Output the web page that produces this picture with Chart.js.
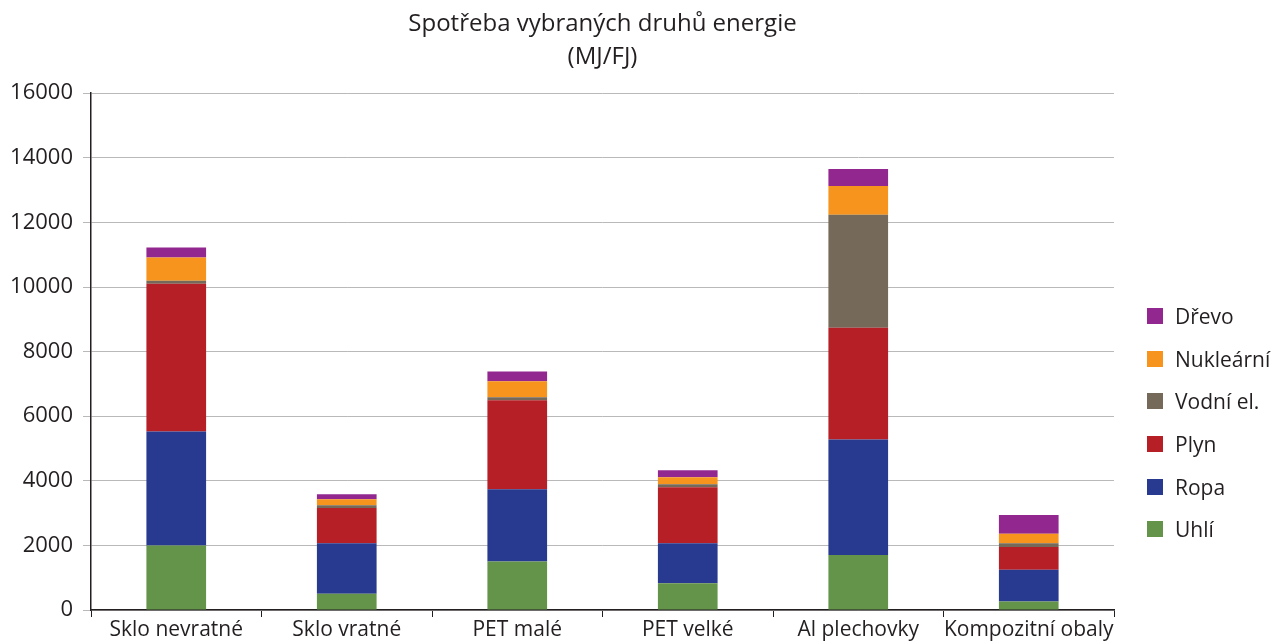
<!DOCTYPE html>
<html>
<head>
<meta charset="utf-8">
<script src="https://cdn.jsdelivr.net/npm/chart.js@4/dist/chart.umd.min.js"></script>
<style>
  html,body{margin:0;padding:0;background:#fff}
  #wrap{position:relative;width:1274px;height:644px}
  #legend{position:absolute;left:1147px;top:295px;margin:0;padding:0;list-style:none;
    font-family:"Open Sans","Noto Sans",sans-serif;font-size:21px;color:#231f20}
  #legend li{display:flex;align-items:center;height:42.6px;white-space:nowrap}
  #legend span{display:inline-block;width:16px;height:16px;margin-right:12px}
</style>
</head>
<body>
<div id="wrap"><canvas id="energyChart"></canvas><ul id="legend"></ul></div>
<script>
// packaging types and energy consumption per type (MJ/FJ)
const categories = ['Sklo nevratné','Sklo vratné','PET malé','PET velké','Al plechovky','Kompozitní obaly'];
const uhli      = [2000, 500, 1500, 830, 1700, 260];
const ropa      = [3530, 1570, 2240, 1240, 3580, 990];
const plyn      = [4570, 1090, 2750, 1730, 3460, 700];
const vodni     = [95, 85, 95, 90, 3500, 120];
const nuklearni = [720, 185, 500, 220, 890, 290];
const drevo     = [310, 155, 300, 215, 525, 580];
const yTicks = [0,2000,4000,6000,8000,10000,12000,14000,16000];

const FONT = '"Open Sans", "Noto Sans", sans-serif';
const TXT = '#231f20';

function ds(label, data, color){
  return {label, data, backgroundColor:color, borderWidth:0, barPercentage:0.35, categoryPercentage:1};
}

const ctx = document.getElementById('energyChart').getContext('2d');
const chart = new Chart(ctx,{
  type:'bar',
  data:{
    labels:categories,
    datasets:[
      ds('Uhlí', uhli, '#64944a'),
      ds('Ropa', ropa, '#283a8f'),
      ds('Plyn', plyn, '#b71f27'),
      ds('Vodní el.', vodni, '#75695a'),
      ds('Nukleární', nuklearni, '#f7941d'),
      ds('Dřevo', drevo, '#92278f')
    ]
  },
  options:{
    responsive:true,
    maintainAspectRatio:false,
    animation:false,
    layout:{padding:{left:0,right:160,top:0,bottom:0}},
    plugins:{
      title:{
        display:true,
        fullSize:false,
        text:['Spotřeba vybraných druhů energie','(MJ/FJ)'],
        color:TXT,
        font:{family:FONT,size:24,weight:'normal',lineHeight:1.4},
        padding:{top:7,bottom:19}
      },
      legend:{display:false},
      tooltip:{enabled:false}
    },
    scales:{
      x:{
        stacked:true,
        border:{color:'#231f20',width:1.5},
        grid:{drawOnChartArea:false,offset:true,tickLength:7,color:'#231f20'},
        ticks:{color:TXT,font:{family:FONT,size:21},padding:0,maxRotation:0,autoSkip:false},
        afterFit(s){ s.height = 34; }
      },
      y:{
        stacked:true,
        min:0,max:16000,
        border:{color:'#231f20',width:1.5},
        grid:{color:'#b9b9b9',lineWidth:1,tickLength:8},
        afterBuildTicks(s){ s.ticks = yTicks.map(v=>({value:v})); },
        ticks:{color:TXT,font:{family:FONT,size:22},padding:10,callback:v=>String(v)},
        afterFit(s){ s.width = 91; }
      }
    }
  }
});

// legend list, top entry is the last dataset
const legendEl = document.getElementById('legend');
chart.data.datasets.slice().reverse().forEach(d=>{
  const li = document.createElement('li');
  const sw = document.createElement('span');
  sw.style.background = d.backgroundColor;
  li.appendChild(sw);
  li.appendChild(document.createTextNode(d.label));
  legendEl.appendChild(li);
});
</script>
</body>
</html>
